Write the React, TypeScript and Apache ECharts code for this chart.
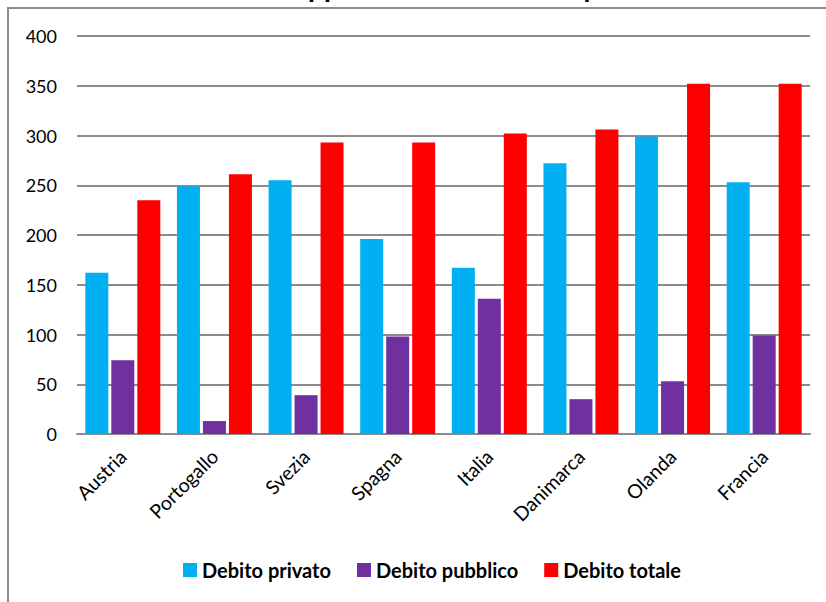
import React, { useEffect, useRef } from "react";
import * as echarts from "echarts";

const titleText = "Rapporto debito/PIL nei paesi UE";
const categories = ["Austria", "Portogallo", "Svezia", "Spagna", "Italia", "Danimarca", "Olanda", "Francia"];
const seriesNames = ["Debito privato", "Debito pubblico", "Debito totale"];
const debitoPrivato = [162, 249, 255, 196, 167, 272, 299, 253];
const debitoPubblico = [74, 13, 39, 98, 136, 35, 53, 99];
const debitoTotale = [235, 261, 293, 293, 302, 306, 352, 352];
const colors = ["#00B0F0", "#7030A0", "#FF0000"];

export default function App() {
  const ref = useRef<HTMLDivElement>(null);
  useEffect(() => {
    if (!ref.current) return;
    const chart = echarts.init(ref.current, null, { renderer: "svg" });
    const font = "Lato, 'Open Sans', sans-serif";
    const data = [debitoPrivato, debitoPubblico, debitoTotale];
    chart.setOption({
      animation: false,
      backgroundColor: "#ffffff",
      title: {
        text: titleText,
        left: 271,
        top: -33,
        textStyle: { fontFamily: font, fontWeight: "bold", fontSize: 28, color: "#000" },
      },
      graphic: [
        {
          type: "rect",
          shape: { x: 8, y: 8, width: 900, height: 700 },
          style: { fill: "#fff", stroke: "#8c8c8c", lineWidth: 2 },
          silent: true,
          z: -10,
        },
      ],
      legend: {
        data: seriesNames,
        bottom: 17,
        left: 178,
        itemWidth: 14,
        itemHeight: 14,
        itemGap: 26,
        icon: "rect",
        textStyle: { fontFamily: font, fontWeight: "bold", fontSize: 20, color: "#000" },
      },
      grid: { left: 77, right: 16, top: 36, bottom: 168, containLabel: false },
      xAxis: {
        type: "category",
        data: categories,
        axisLine: { show: true, lineStyle: { color: "#8c8c8c", width: 2 } },
        axisTick: { show: false },
        axisLabel: { rotate: 45, fontFamily: font, fontSize: 19.5, color: "#000", margin: 19, interval: 0 },
      },
      yAxis: {
        type: "value",
        min: 0,
        max: 400,
        interval: 50,
        axisLine: { show: false },
        axisTick: { show: false },
        axisLabel: { fontFamily: font, fontSize: 18, color: "#000", margin: 20 },
        splitLine: { lineStyle: { color: "#8c8c8c", width: 2 } },
      },
      series: seriesNames.map((name, i) => ({
        name,
        type: "bar",
        data: data[i],
        barWidth: 23,
        barGap: "13%",
        itemStyle: { color: colors[i] },
      })),
    });
    return () => chart.dispose();
  }, []);
  return <div ref={ref} style={{ position: "fixed", left: 0, top: 0, width: 826, height: 602 }} />;
}
